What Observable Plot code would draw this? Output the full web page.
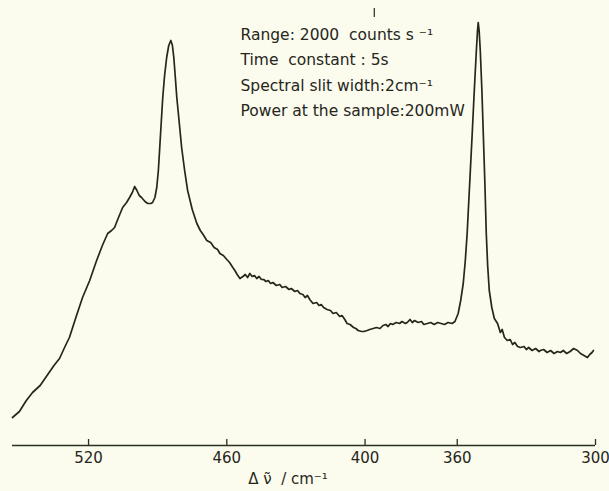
<!DOCTYPE html>
<html><head><meta charset="utf-8">
<script src="https://cdn.jsdelivr.net/npm/d3@7"></script>
<script src="https://cdn.jsdelivr.net/npm/@observablehq/plot@0.6"></script>
<style>body{margin:0;background:#fbfbee;}</style>
</head><body><div id="chart"></div>
<script>
// Raman shift (cm^-1) and intensity (arbitrary units)
const wavenumber = [553.0,550,547,544.3,541,538,535,532.6,530,528.3,525.5,522.6,519.5,516.5,514,511.7,510,508.7,507,505.2,503.5,502.2,501,500.0,499,498,497.0,495.5,494.3,493,492.2,491.2,490.4,489.7,489.1,488.4,487.8,487,486.1,485.2,484.3,483.6,483.0,482.4,481.7,480.6,479.6,478.3,477.0,475,473.0,471.5,470,468.7,467,465.5,464,463.0,461.5,460,458.8,457.4,456.5,455.5,454.3,453,452,451,450,449,448,447,446,445,444,443,442,441,440,438.5,437,436,434.5,433,432,430.5,429.3,428.3,427,426,425,424,422.6,421,420,419,418,416.5,415,413.9,412.5,411,410,408.8,407.8,406.5,405,404,403,401.5,400.5,399.1,398,396.5,395,393.5,392.2,391,390,389,388,386.5,385,384,382.5,381.7,380.5,379.5,378.5,377,375.5,374.5,373,371.5,370,368.5,367,365.5,364,362.2,361,359.6,358.5,357.4,356.5,355.7,354.6,353.5,352.6,351.7,351.2,350.9,350.5,350.0,349.3,348.7,348,347.4,346.8,346.1,345,343.9,342.5,341.3,340.5,339.5,338.3,337,336,335,333.8,332.6,331,330,329,327.5,326,324.5,323.9,322.5,321,319.5,318,316.5,315.2,314,312.5,311,309.5,307.8,306.5,305,303.5,302.5,301.5,300.9];
const intensity = [28,34,45,53,60,70,80,87,100,108,128,148,165,185,200,212,215,218,228,238,243,248,253,259,255,250,248,244,242,242,243,248,258,275,298,325,348,370,388,400,405,400,388,370,348,322,298,275,255,236,222,215,210,205,203,198,196,192,190,186,183,178,175,171,167,169,171,168,172,169,170,167,169,166,166,164,165,162,163,160,161,158,159,156,157,154,155,152,151,148,150,146,142,143,140,141,138,136,135,132,133,129,130,126,122,121,118,117,115,114,114,115,116,117,118,117,120,121,119,122,121,123,122,124,122,123,126,123,125,123,124,121,122,123,121,123,122,121,123,122,124,132,145,162,185,212,262,312,355,395,415,423,415,395,355,312,262,212,180,155,138,127,122,113,116,108,105,106,101,103,99,98,99,96,98,95,97,94,95,96,93,95,92,94,93,95,92,94,97,95,92,90,88,91,93,95];
const tickValues = [520, 460, 400, 360, 300];
const annotationLines = ["Range: 2000  counts s \u207B\u00B9", "Time  constant : 5s", "Spectral slit width:2cm\u207B\u00B9", "Power at the sample:200mW"];
const xLabel = "\u0394 \u03BD\u0303  / cm\u207B\u00B9";
const topMarks = [396];

const data = wavenumber.map((w, k) => ({w, v: intensity[k]}));
const ink = "#26261b";

const chart = Plot.plot({
  width: 609, height: 491,
  marginLeft: 12, marginRight: 14, marginTop: 0, marginBottom: 46,
  style: {background: "#fbfbee", fontFamily: "DejaVu Sans", fontSize: "15px", color: ink},
  x: {domain: [553, 300], axis: null},
  y: {domain: [0, 445], axis: null},
  marks: [
    Plot.ruleY([0], {stroke: "#28301f", strokeWidth: 1.6}),
    Plot.ruleX(tickValues, {y1: 0, y2: 6, stroke: "#28301f", strokeWidth: 1.3}),
    Plot.axisX(tickValues, {tickSize: 0, tickPadding: 7, label: null, fontSize: 15, fill: ink}),
    Plot.text([xLabel], {frameAnchor: "bottom", lineAnchor: "bottom", dy: 38, dx: -16, fontSize: 15, fill: ink}),
    Plot.ruleX(topMarks, {y1: 428, y2: 437, stroke: ink, strokeWidth: 1.2}),
    Plot.line(data, {x: "w", y: "v", stroke: ink, strokeWidth: 1.7, strokeLinejoin: "round"}),
    Plot.text([annotationLines.join("\n")], {frameAnchor: "top-left", textAnchor: "start", lineAnchor: "top", dx: 228, dy: 21, lineHeight: 1.65, fontSize: 15.5, fill: ink})
  ]
});
document.getElementById("chart").append(chart);
</script>
</body></html>
